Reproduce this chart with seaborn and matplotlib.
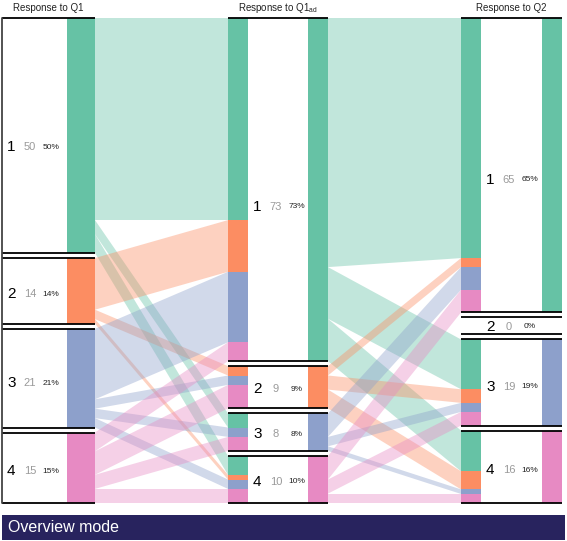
import numpy as np
import seaborn as sns
import matplotlib.pyplot as plt
from matplotlib.patches import Polygon, Rectangle

# answers 1..4 for the three questions
categories = ["1", "2", "3", "4"]
q1_counts = [50, 14, 21, 15]
q1ad_counts = [73, 9, 8, 10]
q2_counts = [65, 0, 19, 16]

# rows = earlier answer, columns = later answer
q1_to_q1ad = [[43, 0, 3, 4],
              [11, 2, 0, 1],
              [15, 2, 2, 2],
              [4, 5, 3, 3]]
q1ad_to_q2 = [[53, 0, 11, 9],
              [2, 0, 3, 4],
              [5, 0, 2, 1],
              [5, 0, 3, 2]]

titles = ["Response to Q1", r"Response to Q1$_{\mathrm{ad}}$", "Response to Q2"]
mode_label = "Overview mode"

sns.set_theme(style="white")
plt.rcParams["font.family"] = ["Liberation Sans", "DejaVu Sans"]
plt.rcParams["mathtext.fontset"] = "custom"
plt.rcParams["mathtext.rm"] = "Liberation Sans"
palette = sns.color_palette("Set2", 4)

# layout (figure pixels)
TOP, BOTTOM, GAP, MIN_BOX = 18, 503, 5, 17
# (in-bar, white label area, own-colour bar)
columns = [
    dict(inbar=None, white=(2, 67), own=(67, 95)),
    dict(inbar=(228, 248), white=(248, 308), own=(308, 328)),
    dict(inbar=(461, 481), white=(481, 542), own=(542, 562)),
]


def stack(counts):
    counts = np.array(counts, dtype=float)
    n_zero = (counts == 0).sum()
    scale = (BOTTOM - TOP - GAP * (len(counts) - 1) - MIN_BOX * n_zero) / counts.sum()
    tops, heights = [], []
    y = TOP
    for c in counts:
        h = c * scale if c > 0 else MIN_BOX
        tops.append(y)
        heights.append(h)
        y += h + GAP
    return np.array(tops), np.array(heights), scale


counts_all = [q1_counts, q1ad_counts, q2_counts]
stacks = [stack(c) for c in counts_all]
flows_all = [np.array(q1_to_q1ad), np.array(q1ad_to_q2)]

fig = plt.figure(figsize=(5.67, 5.41), dpi=100)
ax = fig.add_axes([0, 0, 1, 1])
ax.set_xlim(0, 567)
ax.set_ylim(541, 0)
ax.axis("off")

# flows between neighbouring columns, coloured by the earlier answer
for k, mat in enumerate(flows_all):
    s_tops, _, s_scale = stacks[k]
    t_tops, _, t_scale = stacks[k + 1]
    x_src = columns[k]["own"][1]
    x_tgt = columns[k + 1]["inbar"][0]
    src_off = np.zeros(4)
    tgt_off = np.zeros(4)
    for i in range(4):
        for j in range(4):
            v = mat[i, j]
            if v == 0:
                continue
            ys0 = s_tops[i] + src_off[i]
            ys1 = ys0 + v * s_scale
            yt0 = t_tops[j] + tgt_off[j]
            yt1 = yt0 + v * t_scale
            src_off[i] += v * s_scale
            tgt_off[j] += v * t_scale
            ax.add_patch(Polygon([(x_src, ys0), (x_src, ys1), (x_tgt, yt1), (x_tgt, yt0)],
                                 closed=True, facecolor=palette[i], alpha=0.4,
                                 edgecolor="none", zorder=1))

# columns
for k, col in enumerate(columns):
    tops, heights, scale = stacks[k]
    counts = counts_all[k]
    total = sum(counts)
    # incoming bar split by the earlier answer
    if col["inbar"] is not None:
        x0, x1 = col["inbar"]
        mat = flows_all[k - 1]
        for j in range(4):
            y = tops[j]
            for i in range(4):
                v = mat[i, j]
                if v == 0:
                    continue
                ax.bar((x0 + x1) / 2, v * scale, bottom=y, width=x1 - x0,
                       color=palette[i], linewidth=0, zorder=2)
                y += v * scale
    # own colour bar
    x0, x1 = col["own"]
    for j in range(4):
        if counts[j] > 0:
            ax.bar((x0 + x1) / 2, heights[j], bottom=tops[j], width=x1 - x0,
                   color=palette[j], linewidth=0, zorder=2)
    left = col["inbar"][0] if col["inbar"] is not None else col["white"][0]
    right = col["own"][1]
    wx = col["white"][0]
    for j in range(4):
        for yy in (tops[j], tops[j] + heights[j]):
            ax.plot([left, right], [yy, yy], color="black", lw=1.3,
                    solid_capstyle="butt", zorder=3)
        ly = tops[j] + 0.55 * heights[j]
        ax.text(wx + 5, ly, categories[j], fontsize=11, color="black",
                ha="left", va="center", zorder=4)
        ax.text(wx + 28, ly, str(counts[j]), fontsize=8, color="#9a9a9a",
                ha="center", va="center", zorder=4)
        ax.text(wx + 49, ly, f"{round(100 * counts[j] / total)}%", fontsize=6,
                color="#222222", ha="center", va="center", zorder=4)
    ax.text((left + right) / 2, 8, titles[k], fontsize=7, color="#222222",
            ha="center", va="center")

# left border of the first column
ax.plot([2, 2], [TOP, BOTTOM], color="#444444", lw=1.3, zorder=3)

# mode banner
ax.add_patch(Rectangle((2, 515), 563, 25, facecolor="#28235e", edgecolor="none"))
ax.text(8, 527.5, mode_label, fontsize=11.5, color="white", ha="left", va="center")

fig.savefig("out.png", dpi=100)
